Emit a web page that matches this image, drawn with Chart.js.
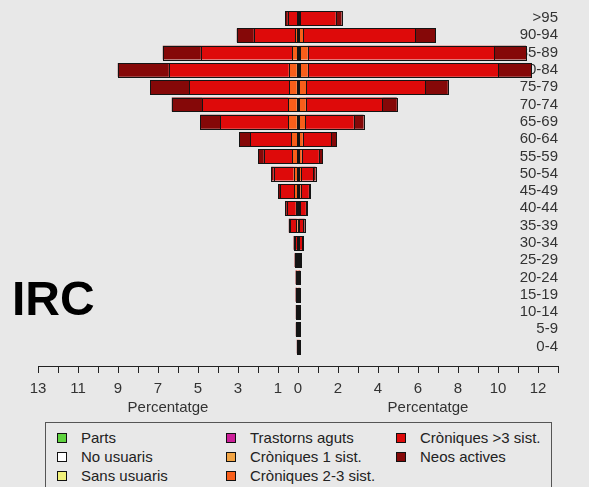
<!DOCTYPE html>
<html>
<head>
<meta charset="utf-8">
<script src="https://cdn.jsdelivr.net/npm/chart.js@4.4.1/dist/chart.umd.min.js"></script>
<style>
  html, body { margin: 0; padding: 0; background: #e8e8e8; overflow: hidden; }
  body { width: 589px; height: 487px; position: relative; }
  #chart { position: absolute; left: 0; top: 0; }
  #legend {
    position: absolute; left: 45px; top: 422px; width: 507px; height: 80px;
    box-sizing: border-box; border: 1px solid #555;
    padding: 5px 0 0 11px;
    display: grid; grid-auto-flow: column;
    grid-template-rows: repeat(3, 19px);
    grid-template-columns: 169px 170px 1fr;
    font: 15px "Liberation Sans", Arial, sans-serif; color: #222;
  }
  #legend .item { display: flex; align-items: center; white-space: nowrap; }
  #legend .box { width: 10px; height: 10px; box-sizing: border-box; border: 1px solid #111; margin-right: 14px; }
</style>
</head>
<body>
<canvas id="chart" width="589" height="420"></canvas>
<div id="legend"></div>
<script>
// age groups, bottom to top
const ages = ['0-4', '5-9', '10-14', '15-19', '20-24', '25-29', '30-34', '35-39', '40-44', '45-49',
  '50-54', '55-59', '60-64', '65-69', '70-74', '75-79', '80-84', '85-89', '90-94', '>95'];

const seriesNames = ['Parts', 'No usuaris', 'Sans usuaris', 'Trastorns aguts',
  'Cròniques 1 sist.', 'Cròniques 2-3 sist.', 'Cròniques >3 sist.', 'Neos actives'];
const seriesColors = ['#5fd33f', '#ffffff', '#f2f27a', '#cc1f99',
  '#f2a444', '#f85e1a', '#de0a0a', '#850808'];

// groups with no cases
const noCases = [0, 0, 0, 0, 0, 0, 0, 0, 0, 0, 0, 0, 0, 0, 0, 0, 0, 0, 0, 0];

// left half (percentatge)
const leftC1 = [0.01, 0.02, 0.02, 0.02, 0.02, 0.02, 0.02, 0.02, 0.03, 0.03, 0.04, 0.04, 0.05, 0.06, 0.06, 0.06, 0.06, 0.05, 0.04, 0.02];
const leftC23 = [0.01, 0.02, 0.02, 0.02, 0.02, 0.03, 0.03, 0.06, 0.08, 0.15, 0.18, 0.25, 0.30, 0.43, 0.43, 0.38, 0.40, 0.25, 0.10, 0.03];
const leftC3 = [0.02, 0.04, 0.04, 0.05, 0.05, 0.07, 0.10, 0.30, 0.45, 0.70, 1.00, 1.42, 2.04, 3.40, 4.30, 4.99, 6.00, 4.56, 2.07, 0.46];
const leftNeo = [0.02, 0.03, 0.03, 0.03, 0.03, 0.05, 0.07, 0.08, 0.08, 0.10, 0.12, 0.27, 0.54, 1.00, 1.52, 1.95, 2.55, 1.90, 0.85, 0.13];

// right half (percentatge)
const rightC1 = [0.01, 0.01, 0.01, 0.01, 0.01, 0.02, 0.02, 0.02, 0.02, 0.03, 0.03, 0.03, 0.04, 0.05, 0.06, 0.07, 0.08, 0.08, 0.05, 0.03];
const rightC23 = [0.02, 0.02, 0.02, 0.02, 0.02, 0.03, 0.04, 0.05, 0.07, 0.10, 0.12, 0.15, 0.20, 0.30, 0.33, 0.35, 0.40, 0.40, 0.20, 0.05];
const rightC3 = [0.03, 0.04, 0.04, 0.04, 0.05, 0.07, 0.15, 0.20, 0.30, 0.41, 0.61, 0.86, 1.42, 2.43, 3.82, 5.95, 9.53, 9.32, 5.61, 1.80];
const rightNeo = [0.02, 0.02, 0.02, 0.02, 0.03, 0.04, 0.06, 0.06, 0.07, 0.08, 0.12, 0.17, 0.25, 0.50, 0.73, 1.12, 1.65, 1.60, 1.00, 0.30];

const leftSeries = [noCases, noCases, noCases, noCases, leftC1, leftC23, leftC3, leftNeo];
const rightSeries = [noCases, noCases, noCases, noCases, rightC1, rightC23, rightC3, rightNeo];

// axis ticks: a mark at every unit, labels only on some
const xTickMarks = [];
for (let v = -13; v <= 13; v++) xTickMarks.push(v);
const xTickLabels = [-13, -11, -9, -7, -5, -3, -1, 0, 2, 4, 6, 8, 10, 12];

const font = '"Liberation Sans", Arial, sans-serif';

const toPoints = (values, sign) =>
  values.map((v, i) => ({ x: sign * v, y: i })).filter(p => p.x !== 0);

const datasets = [];
[[leftSeries, -1], [rightSeries, 1]].forEach(([side, sign]) => {
  side.forEach((values, k) => {
    datasets.push({
      label: seriesNames[k],
      data: toPoints(values, sign),
      backgroundColor: seriesColors[k],
      borderWidth: 0,
      categoryPercentage: 1,
      barPercentage: 0.8,
    });
  });
});

// R-style outline: 1px stroke centred on every segment edge
const outlines = {
  id: 'outlines',
  afterDatasetsDraw(chart) {
    const ctx = chart.ctx;
    ctx.save();
    ctx.strokeStyle = '#141414';
    ctx.lineWidth = 1;
    chart.data.datasets.forEach((ds, i) => {
      chart.getDatasetMeta(i).data.forEach(bar => {
        const { x, y, base, height } = bar.getProps(['x', 'y', 'base', 'height'], true);
        const l = Math.round(Math.min(x, base));
        const r = Math.round(Math.max(x, base));
        const t = Math.round(y - height / 2);
        const b = Math.round(y + height / 2);
        ctx.strokeRect(l + 0.5, t + 0.5, r - l, b - t);
      });
    });
    ctx.restore();
  }
};

const extraText = {
  id: 'extraText',
  afterDraw(chart) {
    const { ctx, scales: { x } } = chart;
    ctx.save();
    ctx.fillStyle = '#333';
    ctx.font = '15px ' + font;
    ctx.textAlign = 'center';
    ctx.textBaseline = 'middle';
    ctx.fillText('Percentatge', x.getPixelForValue(-6.5), 408);
    ctx.fillText('Percentatge', x.getPixelForValue(6.5), 408);
    ctx.fillStyle = '#000';
    ctx.font = 'bold 48px ' + font;
    ctx.textAlign = 'left';
    ctx.textBaseline = 'alphabetic';
    ctx.fillText('IRC', 12, 315);
    ctx.restore();
  }
};

const chart = new Chart(document.getElementById('chart').getContext('2d'), {
  type: 'bar',
  data: { datasets },
  options: {
    indexAxis: 'y',
    responsive: false,
    animation: false,
    events: [],
    layout: { padding: { left: 38, right: 31, top: 9.35, bottom: 15 } },
    scales: {
      x: {
        type: 'linear',
        min: -13,
        max: 13,
        stacked: true,
        afterBuildTicks: s => { s.ticks = xTickMarks.map(v => ({ value: v })); },
        grid: { drawOnChartArea: false, drawTicks: true, tickLength: 7, color: '#222' },
        border: { display: true, color: '#222' },
        ticks: {
          autoSkip: false,
          maxRotation: 0,
          padding: 7,
          color: '#333',
          font: { family: font, size: 15 },
          callback: v => xTickLabels.includes(v) ? String(Math.abs(v)) : ''
        }
      },
      y: {
        type: 'linear',
        position: 'right',
        min: -1.12,
        max: 19.5,
        offset: false,
        stacked: true,
        afterBuildTicks: s => { s.ticks = ages.map((_, i) => ({ value: i })); },
        grid: { display: false, drawTicks: false, offset: false },
        border: { display: false },
        ticks: {
          mirror: true,
          autoSkip: false,
          padding: 0,
          color: '#333',
          font: { family: font, size: 15 },
          callback: v => ages[v]
        }
      }
    },
    plugins: {
      legend: { display: false },
      tooltip: { enabled: false }
    }
  },
  plugins: [outlines, extraText]
});

// legend in columns, like the original
const legend = document.getElementById('legend');
seriesNames.forEach((name, k) => {
  const item = document.createElement('div');
  item.className = 'item';
  const box = document.createElement('span');
  box.className = 'box';
  box.style.background = seriesColors[k];
  item.appendChild(box);
  item.appendChild(document.createTextNode(name));
  legend.appendChild(item);
});
</script>
</body>
</html>
